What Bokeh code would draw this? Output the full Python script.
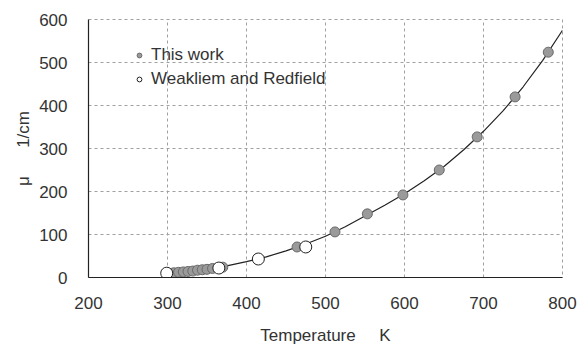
from bokeh.plotting import figure
from bokeh.models import Legend, LegendItem, Range1d, FixedTicker
from bokeh.embed import file_html
from bokeh.resources import INLINE

# This work (filled gray)
tw_T = [308, 314, 320, 326, 332, 338, 344, 350, 357, 370,
        464, 512, 553, 598, 644, 692, 740, 782]
tw_mu = [11, 12, 13, 14, 15, 17, 18, 19, 21, 24,
         71, 106, 148, 192, 250, 327, 420, 524]

# Weakliem and Redfield (open circles)
wr_T = [299, 365, 415, 475]
wr_mu = [10, 22, 43, 71]

# Fitted curve
fit_T = [300, 325, 350, 375, 400, 425, 450, 475, 500, 525, 550,
         575, 600, 625, 650, 675, 700, 725, 750, 775, 800]
fit_mu = [10, 14, 19, 27, 37, 48, 62, 78, 96, 118, 143,
          168, 195, 225, 258, 297, 340, 388, 443, 505, 575]

x_ticks = [200, 300, 400, 500, 600, 700, 800]
y_ticks = [0, 100, 200, 300, 400, 500, 600]

FONT = "Liberation Sans"
TXT = "#333333"
NB = "\u00a0"

p = figure(width=584, height=345, frame_width=474, frame_height=258,
           min_border_left=88, min_border_right=22, min_border_top=19, min_border_bottom=68,
           x_range=Range1d(200, 800), y_range=Range1d(0, 600),
           output_backend="svg", toolbar_location=None, background_fill_color="white")

p.line(fit_T, fit_mu, line_color="#222222", line_width=1.2)
# small copies used only as legend glyphs (hidden beneath the real marks)
r1_leg = p.scatter(tw_T[:1], tw_mu[:1], size=7, fill_color="#9a9a9a", line_color="#6a6a6a", line_width=1)
r2_leg = p.scatter(wr_T[:1], wr_mu[:1], size=9, fill_color="white", line_color="#222222", line_width=1)
r1 = p.scatter(tw_T, tw_mu, size=10, fill_color="#9a9a9a", line_color="#6a6a6a", line_width=1)
r2 = p.scatter(wr_T, wr_mu, size=12, fill_color="white", line_color="#222222", line_width=1)

for ax, ticks in ((p.xaxis[0], x_ticks), (p.yaxis[0], y_ticks)):
    ax.ticker = FixedTicker(ticks=ticks)
    ax.major_tick_line_color = None
    ax.minor_tick_line_color = None
    ax.axis_line_color = "#222222"
    ax.axis_line_width = 1.2
    ax.major_label_text_font = FONT
    ax.major_label_text_font_size = "17px"
    ax.major_label_text_color = TXT
    ax.axis_label_text_font = FONT
    ax.axis_label_text_font_style = "normal"
    ax.axis_label_text_font_size = "17px"
    ax.axis_label_text_color = TXT

p.xaxis.major_label_standoff = 13
p.yaxis.major_label_standoff = 15
p.xaxis.axis_label = "Temperature" + NB * 5 + "K"
p.xaxis.axis_label_standoff = 14
p.yaxis.axis_label = "μ" + NB * 6 + "1/cm"
p.yaxis.axis_label_standoff = 3

p.xgrid.ticker = FixedTicker(ticks=x_ticks)
p.ygrid.ticker = FixedTicker(ticks=y_ticks)
for g in (p.xgrid[0], p.ygrid[0]):
    g.grid_line_color = "#a0a0a0"
    g.grid_line_dash = "3 3"
    g.grid_line_width = 1

p.outline_line_color = "#a0a0a0"
p.outline_line_dash = "3 3"

legend = Legend(items=[LegendItem(label="This work", renderers=[r1_leg]),
                       LegendItem(label="Weakliem and Redfield", renderers=[r2_leg])])
legend.border_line_color = None
legend.background_fill_alpha = 0
legend.label_text_font = FONT
legend.label_text_font_size = "17px"
legend.label_text_color = TXT
legend.glyph_width = 12
legend.glyph_height = 20
legend.label_height = 20
legend.spacing = 4
legend.label_standoff = 6
legend.margin = 0
legend.padding = 0
legend.location = (45, 188)
p.add_layout(legend)

open("out.html", "w").write(file_html(p, INLINE))
